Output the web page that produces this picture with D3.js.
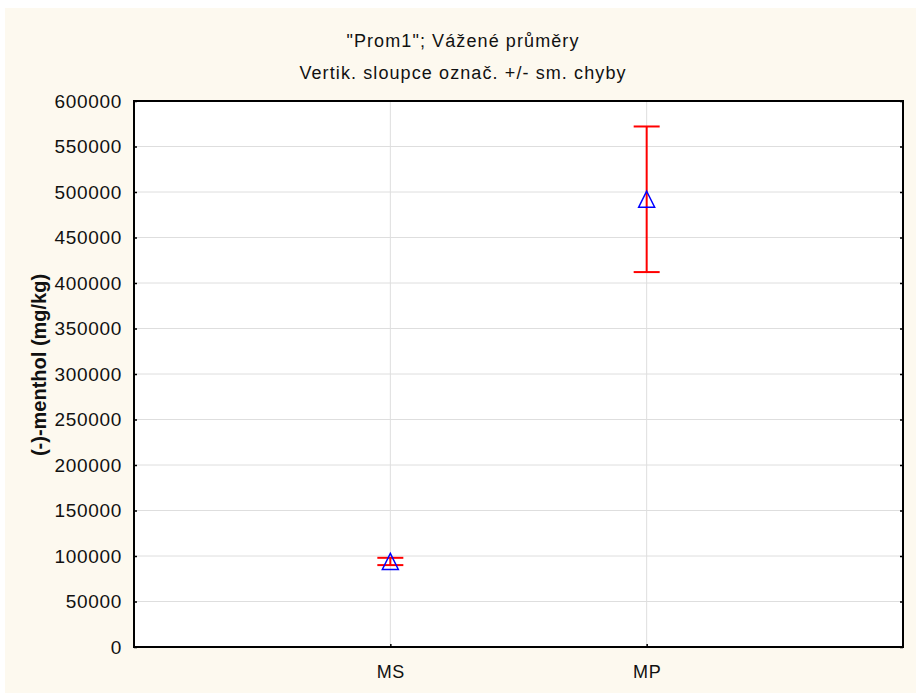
<!DOCTYPE html>
<html>
<head>
<meta charset="utf-8">
<script src="https://cdn.jsdelivr.net/npm/d3@7"></script>
<style>
  html, body { margin: 0; padding: 0; background: #fff; }
  svg { display: block; font-family: "Liberation Sans", Arial, sans-serif; }
</style>
</head>
<body>
<div id="chart"></div>
<script>
// values
const categories = ['MS', 'MP'];
const means = [94000, 492000];
const stdErrors = [4000, 80000];
const yTicks = [0, 50000, 100000, 150000, 200000, 250000, 300000, 350000, 400000, 450000, 500000, 550000, 600000];

const titleLines = ['"Prom1"; Vážené průměry', 'Vertik. sloupce označ. +/- sm. chyby'];
const yLabel = '(-)-menthol (mg/kg)';

const width = 916, height = 693;
const plot = { left: 134, top: 101, right: 903, bottom: 647 };

const svg = d3.select('#chart').append('svg')
  .attr('width', width)
  .attr('height', height);

// cream background
svg.append('rect')
  .attr('x', 5).attr('y', 8)
  .attr('width', width - 5).attr('height', height - 8)
  .attr('fill', '#fdf9ef');

svg.append('rect')
  .attr('x', plot.left).attr('y', plot.top)
  .attr('width', plot.right - plot.left).attr('height', plot.bottom - plot.top)
  .attr('fill', '#fff');

const x = d3.scalePoint()
  .domain(categories)
  .range([plot.left, plot.right])
  .padding(1);

const y = d3.scaleLinear()
  .domain([0, 600000])
  .range([plot.bottom, plot.top]);

// grid
svg.append('g')
  .selectAll('line.h')
  .data(yTicks)
  .join('line')
  .attr('x1', plot.left).attr('x2', plot.right)
  .attr('y1', d => y(d)).attr('y2', d => y(d))
  .attr('stroke', '#dedede').attr('stroke-width', 1);

svg.append('g')
  .selectAll('line.v')
  .data(categories)
  .join('line')
  .attr('x1', d => x(d)).attr('x2', d => x(d))
  .attr('y1', plot.top).attr('y2', plot.bottom)
  .attr('stroke', '#dedede').attr('stroke-width', 1);

// axes
const leftAxis = svg.append('g')
  .attr('transform', `translate(${plot.left},0)`)
  .call(d3.axisLeft(y).tickValues(yTicks).tickSize(-3).tickPadding(12).tickFormat(d3.format('d')));
leftAxis.select('.domain').remove();
leftAxis.selectAll('text')
  .attr('font-size', 19).attr('letter-spacing', 0.7).attr('fill', '#111')
  .attr('font-family', '"Liberation Sans", Arial, sans-serif');

const rightAxis = svg.append('g')
  .attr('transform', `translate(${plot.right},0)`)
  .call(d3.axisRight(y).tickValues(yTicks).tickSize(-3).tickFormat(''));
rightAxis.select('.domain').remove();

const bottomAxis = svg.append('g')
  .attr('transform', `translate(0,${plot.bottom})`)
  .call(d3.axisBottom(x).tickSize(-3).tickPadding(18));
bottomAxis.select('.domain').remove();
bottomAxis.selectAll('text')
  .attr('font-size', 18).attr('letter-spacing', 0.6).attr('fill', '#111')
  .attr('font-family', '"Liberation Sans", Arial, sans-serif');

svg.selectAll('.tick line').attr('stroke', '#000').attr('stroke-width', 1.5);

// frame
svg.append('rect')
  .attr('x', plot.left).attr('y', plot.top)
  .attr('width', plot.right - plot.left).attr('height', plot.bottom - plot.top)
  .attr('fill', 'none').attr('stroke', '#000').attr('stroke-width', 2);

// error bars
const data = categories.map((c, i) => ({ cat: c, mean: means[i], se: stdErrors[i] }));
const capHalf = 13;
const bars = svg.append('g').attr('stroke', '#ff0000').attr('stroke-width', 2);
bars.selectAll('line.stem')
  .data(data)
  .join('line')
  .attr('x1', d => x(d.cat)).attr('x2', d => x(d.cat))
  .attr('y1', d => y(d.mean - d.se)).attr('y2', d => y(d.mean + d.se));
bars.selectAll('line.top')
  .data(data)
  .join('line')
  .attr('x1', d => x(d.cat) - capHalf).attr('x2', d => x(d.cat) + capHalf)
  .attr('y1', d => y(d.mean + d.se)).attr('y2', d => y(d.mean + d.se));
bars.selectAll('line.bot')
  .data(data)
  .join('line')
  .attr('x1', d => x(d.cat) - capHalf).attr('x2', d => x(d.cat) + capHalf)
  .attr('y1', d => y(d.mean - d.se)).attr('y2', d => y(d.mean - d.se));

// mean markers (triangles)
const tri = 8;
svg.append('g')
  .selectAll('path')
  .data(data)
  .join('path')
  .attr('d', d => {
    const cx = x(d.cat), cy = y(d.mean);
    return `M${cx},${cy - tri}L${cx + tri},${cy + tri}L${cx - tri},${cy + tri}Z`;
  })
  .attr('fill', 'none')
  .attr('stroke', '#0000ff')
  .attr('stroke-width', 1.5);

// titles
svg.append('g')
  .selectAll('text')
  .data(titleLines)
  .join('text')
  .attr('x', 463)
  .attr('y', (d, i) => 47 + i * 32)
  .attr('text-anchor', 'middle')
  .attr('font-size', 18)
  .attr('letter-spacing', 1.1)
  .attr('fill', '#111')
  .text(d => d);

// y label
svg.append('text')
  .attr('transform', 'translate(46,365) rotate(-90)')
  .attr('text-anchor', 'middle')
  .attr('font-size', 20)
  .attr('font-weight', 'bold')
  .attr('fill', '#111')
  .text(yLabel);
</script>
</body>
</html>
